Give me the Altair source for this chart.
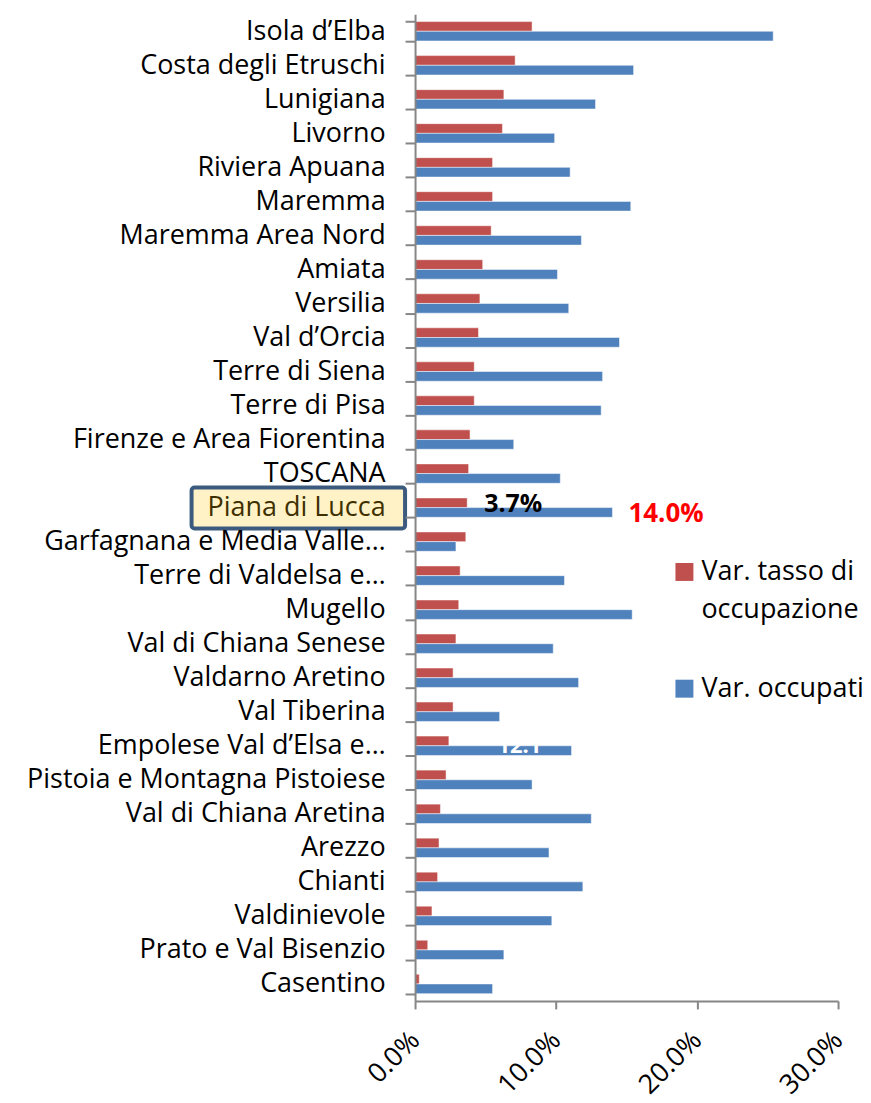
import altair as alt
import pandas as pd

categories = [
    "Isola d\u2019Elba", "Costa degli Etruschi", "Lunigiana", "Livorno", "Riviera Apuana",
    "Maremma", "Maremma Area Nord", "Amiata", "Versilia", "Val d\u2019Orcia",
    "Terre di Siena", "Terre di Pisa", "Firenze e Area Fiorentina", "TOSCANA",
    "Piana di Lucca", "Garfagnana e Media Valle\u2026", "Terre di Valdelsa e\u2026",
    "Mugello", "Val di Chiana Senese", "Valdarno Aretino", "Val Tiberina",
    "Empolese Val d\u2019Elsa e\u2026", "Pistoia e Montagna Pistoiese",
    "Val di Chiana Aretina", "Arezzo", "Chianti", "Valdinievole",
    "Prato e Val Bisenzio", "Casentino",
]
tasso = [8.3, 7.1, 6.3, 6.2, 5.5, 5.5, 5.4, 4.8, 4.6, 4.5, 4.2, 4.2, 3.9, 3.8,
         3.7, 3.6, 3.2, 3.1, 2.9, 2.7, 2.7, 2.4, 2.2, 1.8, 1.7, 1.6, 1.2, 0.9, 0.3]
occupati = [25.4, 15.5, 12.8, 9.9, 11.0, 15.3, 11.8, 10.1, 10.9, 14.5, 13.3, 13.2, 7.0, 10.3,
            14.0, 2.9, 10.6, 15.4, 9.8, 11.6, 6.0, 11.1, 8.3, 12.5, 9.5, 11.9, 9.7, 6.3, 5.5]
series = ["Var. tasso di occupazione", "Var. occupati"]
legend_text = ["Var. tasso di\noccupazione", "Var. occupati"]
colors = ["#C0504D", "#4F81BD"]
x_ticks = [0, 0.1, 0.2, 0.3]

highlight = "Piana di Lucca"
hl_idx = categories.index(highlight)

rows = []
for c, t, o in zip(categories, tasso, occupati):
    rows.append({"cat": c, "series": series[0], "v": t / 100})
    rows.append({"cat": c, "series": series[1], "v": o / 100})
df = pd.DataFrame(rows)

FONT = "Open Sans"
FS = 27
W, H = 424, 989

y_enc = alt.Y("cat:N", sort=categories,
              scale=alt.Scale(paddingInner=0.43, paddingOuter=0.215),
              axis=alt.Axis(title=None, tickBand="extent", tickSize=10, tickWidth=2,
                            tickColor="#868686", domainColor="#868686", domainWidth=2,
                            labelFontSize=FS, labelFont=FONT, labelPadding=20,
                            labelLimit=500, zindex=1,
                            labelColor={"condition": {"test": f"datum.value == '{highlight}'",
                                                      "value": "#3F3000"},
                                        "value": "black"}))

bars = alt.Chart(df).mark_bar(stroke="white", strokeWidth=1, strokeOpacity=0.5).encode(
    y=y_enc,
    yOffset=alt.YOffset("series:N", sort=series),
    x=alt.X("v:Q", scale=alt.Scale(domain=[0, 0.3], nice=False),
            axis=alt.Axis(title=None, values=x_ticks, format=".1%", labelAngle=-45,
                          labelAlign="right", labelBaseline="middle",
                          labelFontSize=FS, labelFont=FONT, labelPadding=27,
                          tickSize=8, tickWidth=2, tickColor="#868686",
                          domainColor="#868686", domainWidth=2, grid=False)),
    color=alt.Color("series:N", sort=series,
                    scale=alt.Scale(domain=series, range=colors), legend=None),
)

box_df = pd.DataFrame({"cat": [highlight]})
box = alt.Chart(box_df).mark_rect(fill="#FFF2C6", stroke="#3C5A7E", strokeWidth=4,
                                  cornerRadius=3).encode(
    x=alt.value(-224), x2=alt.value(-10),
    y=alt.value(hl_idx * H / 29 - 3), y2=alt.value(hl_idx * H / 29 + 38),
)

lab_df = pd.DataFrame({
    "cat": [highlight, highlight],
    "series": series,
    "v": [tasso[hl_idx] / 100, occupati[hl_idx] / 100],
    "txt": [f"{tasso[hl_idx]:.1f}%", f"{occupati[hl_idx]:.1f}%"],
})
lab1 = alt.Chart(lab_df[lab_df.series == series[0]]).mark_text(
    align="left", baseline="middle", dx=17, dy=-4, fontSize=25, fontWeight="bold",
    font=FONT, color="black").encode(
    y=alt.Y("cat:N", sort=categories), x="v:Q", text="txt:N")
lab2 = alt.Chart(lab_df[lab_df.series == series[1]]).mark_text(
    align="left", baseline="middle", dx=16, dy=6, fontSize=26, fontWeight="bold",
    font=FONT, color="#FF0000").encode(
    y=alt.Y("cat:N", sort=categories), x="v:Q", text="txt:N")

ghost_df = pd.DataFrame({"cat": ["Empolese Val d\u2019Elsa e\u2026"], "v": [0.074], "txt": ["12.1"]})
ghost = alt.Chart(ghost_df).mark_text(align="center", baseline="bottom", dy=12, fontSize=22,
                                      fontWeight="bold", font=FONT, color="white").encode(
    y=alt.Y("cat:N", sort=categories), x="v:Q", text="txt:N")

# legend (drawn manually for two-line label)
leg_df = pd.DataFrame({"series": series, "label": legend_text, "ly": [559, 676]})
leg_sq = alt.Chart(leg_df).mark_square(size=324, opacity=1).encode(
    x=alt.value(270), y=alt.Y("ly:Q", scale=None),
    color=alt.Color("series:N", scale=alt.Scale(domain=series, range=colors), legend=None),
)
leg_tx = alt.Chart(leg_df).mark_text(align="left", baseline="middle", lineBreak="\n",
                                     lineHeight=38, fontSize=FS, font=FONT,
                                     color="black").encode(
    x=alt.value(287), y=alt.Y("ly:Q", scale=None), text="label:N",
)

chart = alt.layer(box, bars, lab1, lab2, ghost, leg_sq, leg_tx).properties(
    width=W, height=H,
    background="white",
    autosize=alt.AutoSizeParams(type="none"),
    padding={"left": 408, "top": 5, "right": 25, "bottom": 100},
).configure_view(stroke=None)

chart.save("out.html", embed_options={"renderer": "svg", "actions": False})
